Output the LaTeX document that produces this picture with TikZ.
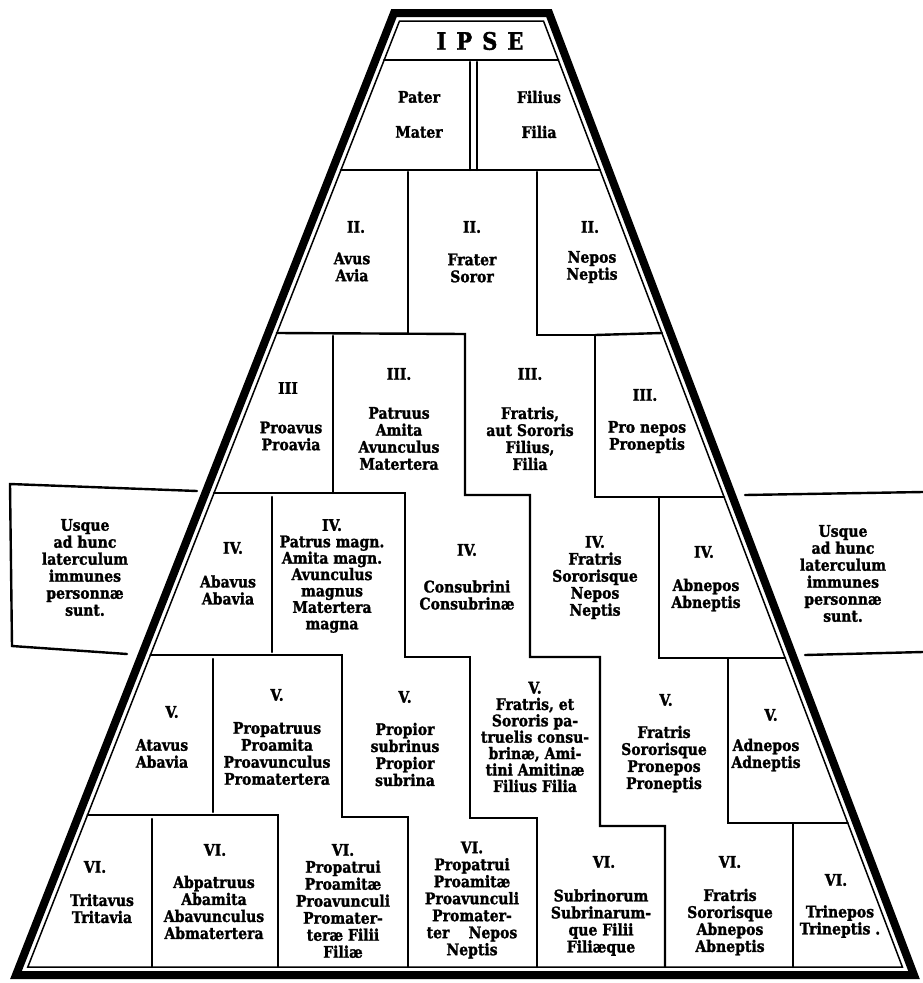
\documentclass[tikz,border=0pt]{standalone}
\usepackage{fontspec}
\setmainfont{DejaVu Serif}
\newfontfamily\cf{DejaVu Serif}[FakeStretch=0.875, BoldFeatures={FakeBold=1.5}]
\begin{document}
\begin{tikzpicture}[x=1pt,y=-1pt,
  ln/.style={line width=2.4pt, line cap=round, line join=miter},
  txt/.style={align=center, inner sep=0pt, font=\cf\fontsize{16}{17}\selectfont\bfseries},
  tight/.style={txt, font=\cf\fontsize{16}{16.4}\selectfont\bfseries},
]
\useasboundingbox (0,0) rectangle (923,983);
\fill[white] (0,0) rectangle (923,983);
% frame
\draw[line width=8pt, line join=miter] (394,13) -- (549,13) -- (914,975) -- (16,975) -- cycle;
\draw[line width=1.5pt, line join=miter] (399.5,21) -- (543.5,21) -- (902.4,967) -- (27.8,967) -- cycle;
% IPSE and row 1
\draw[ln] (384.1,60) -- (558.3,60);
\draw[ln] (470,62) -- (470,170);
\draw[ln] (477,62) -- (477,170);
\draw[ln] (340.9,170) -- (600,170);
% row 2 verticals
\draw[ln] (408,172) -- (408,333);
% Frater line right boundary staircase
\draw[ln] (537,172) -- (537,335) -- (595,335) -- (595,497) -- (659,497) -- (659,658) -- (728,658) -- (728,823) -- (793,823) -- (793,967);
\draw[ln] (595,335) -- (661.9,333);
\draw[ln] (659,497) -- (724.1,497);
\draw[ln] (728,658) -- (785.2,658);
\draw[ln] (793,823) -- (847.7,823);
% Frater line left boundary staircase
\draw[ln] (276.9,333) -- (465,334) -- (465,495) -- (530,495) -- (530,657) -- (600,657) -- (600,826) -- (665,826) -- (665,967);
% Consobrini line
\draw[ln] (214,493) -- (405,493) -- (405,657) -- (470,657) -- (470,818) -- (537,818) -- (537,967);
% Propior line
\draw[ln] (150.4,655) -- (342,655) -- (342,817) -- (408,817) -- (408,967);
% Propatrui filii
\draw[ln] (87.5,815) -- (278,815) -- (278,967);
% ascendant verticals
\draw[ln] (333,336) -- (333,493);
\draw[ln] (272,497) -- (272,652);
\draw[ln] (213,659) -- (213,812);
\draw[ln] (152,819) -- (152,967);
% outside boxes
\draw[ln] (197,491) -- (10,484) -- (12,646) -- (127,654);
\draw[ln] (745,495) -- (923,492);
\draw[ln] (805,655) -- (923,652);
% texts
\node[txt, font=\cf\fontsize{24}{26}\selectfont\bfseries] (ipse) at (480,41) {I\hspace{10pt}P\hspace{10pt}S\hspace{10pt}E};
\node[txt] (pater) at (419,114.5) {Pater\\[18pt]Mater};
\node[txt] (filius) at (539,114.5) {Filius\\[18pt]Filia};
% row 2
\node[txt] (n2a) at (356,227) {II.};
\node[txt] (avus) at (352,267) {Avus\\Avia};
\node[txt] (n2b) at (472,227) {II.};
\node[txt] (frater) at (472,268) {Frater\\Soror};
\node[txt] (n2c) at (590,227) {II.};
\node[txt] (nepos) at (592,267) {Nepos\\Neptis};
% row 3
\node[txt] (n3a) at (288,388) {III};
\node[txt] (proavus) at (291,436) {Proavus\\Proavia};
\node[txt] (n3b) at (399,374) {III.};
\node[txt] (patruus) at (399,438.5) {Patruus\\Amita\\Avunculus\\Matertera};
\node[txt] (n3c) at (530,374) {III.};
\node[txt] (fratris) at (530,438.5) {Fratris,\\aut Sororis\\Filius,\\Filia};
\node[txt] (n3d) at (645,395) {III.};
\node[txt] (pronepos) at (647,437) {Pro nepos\\Proneptis};
% row 4
\node[txt] (usqueL) at (85,567.5) {Usque\\ad hunc\\laterculum\\immunes\\personnæ\\sunt.};
\node[txt] (n4a) at (233,548) {IV.};
\node[txt] (abavus) at (228,590) {Abavus\\Abavia};
\node[tight] (patrusmagn) at (332,576) {IV.\\Patrus magn.\\Amita magn.\\Avunculus\\magnus\\Matertera\\magna};
\node[txt] (n4c) at (467,550) {IV.};
\node[txt] (consubrini) at (467,595) {Consubrini\\Consubrinæ};
\node[txt] (nepos4) at (595,577.5) {IV.\\Fratris\\Sororisque\\Nepos\\Neptis};
\node[txt] (n4e) at (704,552) {IV.};
\node[txt] (abnepos) at (706,595) {Abnepos\\Abneptis};
\node[txt] (usqueR) at (843,573.5) {Usque\\ad hunc\\laterculum\\immunes\\personnæ\\sunt.};
% row 5
\node[txt] (n5a) at (172,712) {V.};
\node[txt] (atavus) at (162,753.5) {Atavus\\Abavia};
\node[txt] (n5b) at (277,695) {V.};
\node[txt] (propatruus) at (277,753.5) {Propatruus\\Proamita\\Proavunculus\\Promatertera};
\node[txt] (n5c) at (405,697) {V.};
\node[txt] (propior) at (405,754.5) {Propior\\subrinus\\Propior\\subrina};
\node[tight] (patruelis) at (535,737) {V.\\Fratris, et\\Sororis pa-\\truelis consu-\\brinæ, Ami-\\tini Amitinæ\\Filius Filia};
\node[txt] (n5e) at (666,700) {V.};
\node[txt] (pronepos5) at (664,759) {Fratris\\Sororisque\\Pronepos\\Proneptis};
\node[txt] (n5f) at (771,715) {V.};
\node[txt] (adnepos) at (766,755) {Adnepos\\Adneptis};
% row 6
\node[txt] (n6a) at (95,867) {VI.};
\node[txt] (tritavus) at (102,908.5) {Tritavus\\Tritavia};
\node[txt] (n6b) at (215,850) {VI.};
\node[txt] (abpatruus) at (214,907.5) {Abpatruus\\Abamita\\Abavunculus\\Abmatertera};
\node[txt] (propfilii) at (343,901) {VI.\\Propatrui\\Proamitæ\\Proavunculi\\Promater-\\teræ Filii\\Filiæ};
\node[txt] (propnepos) at (472,900) {VI.\\Propatrui\\Proamitæ\\Proavunculi\\Promater-\\ter\hspace{1.2em}Nepos\\Neptis};
\node[txt] (n6e) at (604,862) {VI.};
\node[txt] (subrinorum) at (601,922.5) {Subrinorum\\Subrinarum-\\que Filii\\Filiæque};
\node[txt] (n6f) at (730,862) {VI.};
\node[txt] (abnepos6) at (730,922) {Fratris\\Sororisque\\Abnepos\\Abneptis};
\node[txt] (n6g) at (836,880) {VI.};
\node[txt] (trinepos) at (840,921.5) {Trinepos\\Trineptis .};
\end{tikzpicture}
\end{document}
